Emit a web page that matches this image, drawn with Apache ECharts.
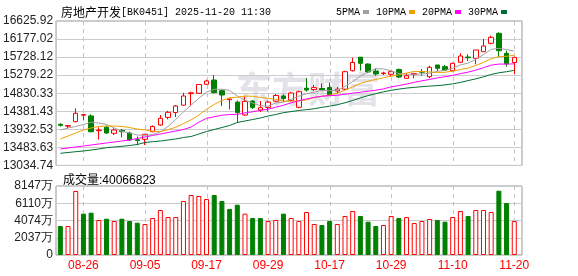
<!DOCTYPE html>
<html><head><meta charset="utf-8">
<script src="https://cdn.jsdelivr.net/npm/echarts@6/dist/echarts.min.js"></script>
<style>html,body{margin:0;padding:0;background:#fff}#c{width:578px;height:276px}</style>
</head><body><div id="c"></div>
<script>
const titleName = '房地产开发';
const titleCode = '[BK0451] 2025-11-20 11:30';
const volLabel = '成交量:40066823';
const legendNames = ['5PMA', '10PMA', '20PMA', '30PMA'];

const dates = ['08-21','08-22','08-25','08-26','08-27','08-28','08-29','09-01','09-02','09-03',
'09-04','09-05','09-08','09-09','09-10','09-11','09-12','09-15','09-16','09-17',
'09-18','09-19','09-22','09-23','09-24','09-25','09-26','09-29','09-30','10-09',
'10-10','10-13','10-14','10-15','10-16','10-17','10-20','10-21','10-22','10-23',
'10-24','10-27','10-28','10-29','10-30','10-31','11-03','11-04','11-05','11-06',
'11-07','11-10','11-11','11-12','11-13','11-14','11-17','11-18','11-19','11-20'];

const opens = [14056.9,14009.6,14121.5,14283.2,14265.8,13897.7,13984.7,13833.0,13907.6,13840.5,
13671.4,13683.8,13872.8,14039.4,14228.5,14350.3,14531.9,14820.4,14827.8,15051.7,
15158.6,14892.5,14668.7,14609.0,14288.1,14636.3,14412.5,14477.2,14631.4,14760.7,
14648.8,14479.6,14954.7,14922.3,14947.2,14972.1,14885.0,14929.8,15389.9,15725.6,
15556.5,15382.4,15317.8,15300.4,15419.7,15200.9,15300.4,15370.0,15240.7,15531.6,
15489.4,15389.9,15598.8,15730.6,15698.3,15862.4,16071.3,16320.0,15822.6,15593.8];

const closes = [14032.0,14024.5,14330.4,14298.1,13872.8,13915.1,13840.5,13915.1,13872.8,13666.4,
13654.0,13808.2,14002.1,14206.1,14355.3,14512.0,14760.7,14840.3,15046.7,15133.7,
14842.8,14785.5,14686.1,14347.8,14626.4,14477.2,14469.7,14609.0,14773.1,14696.0,
14835.3,14867.6,14909.9,14969.6,14914.9,14798.0,14929.8,15365.0,15593.8,15573.9,
15357.6,15307.8,15332.7,15365.0,15233.2,15265.5,15322.7,15352.6,15474.4,15449.6,
15407.3,15573.9,15755.5,15713.2,15904.7,16004.2,16220.5,15887.3,15561.5,15723.1];

const lows = [13997.2,13957.4,14106.6,14163.8,13857.9,13678.8,13815.6,13790.7,13733.5,13641.5,
13534.6,13542.0,13857.9,14022.0,14181.2,14238.4,14517.0,14504.5,14820.4,15044.2,
14827.8,14512.0,14424.9,14089.2,14270.7,14437.4,14362.8,14375.2,14621.4,14611.5,
14623.9,14454.8,14867.6,14885.0,14885.0,14778.1,14827.8,14909.9,15370.0,15389.9,
15325.2,15265.5,15282.9,15240.7,15208.3,15188.4,15200.9,15265.5,15200.9,15382.4,
15389.9,15377.5,15588.9,15631.1,15549.1,15855.0,16046.5,15730.6,15489.4,15302.9];

const highs = [14081.7,14027.0,14454.8,14303.1,14305.6,13982.3,14017.1,13957.4,13940.0,13877.8,
13753.4,13815.6,14027.0,14288.1,14392.6,14536.8,14840.3,14867.6,15059.1,15166.1,
15282.9,14922.3,14691.0,14648.8,14743.3,14661.2,14636.3,14648.8,14810.4,14803.0,
14867.6,14892.5,15208.3,15034.2,15071.6,15091.5,14984.5,15387.4,15713.2,15730.6,
15569.0,15449.6,15365.0,15377.5,15444.6,15325.2,15325.2,15432.2,15514.2,15536.6,
15531.6,15588.9,15822.6,15797.8,15909.7,16178.3,16260.3,16344.9,15887.3,15730.6];

const ma5 = [13915,13965,14002,14052,14111.6,14088.2,14051.4,13968.3,13883.3,13842.0,
13789.8,13783.3,13800.7,13867.4,14005.1,14176.7,14367.2,14534.9,14703.0,14858.7,
14924.8,14929.8,14899.0,14759.2,14657.7,14584.6,14521.4,14506.0,14591.1,14605.0,
14676.6,14756.2,14816.4,14855.7,14899.5,14892.0,14904.4,14995.5,15120.3,15252.1,
15364.0,15439.6,15433.2,15387.4,15319.3,15300.8,15303.8,15307.8,15329.7,15373.0,
15401.3,15451.6,15532.1,15579.9,15670.9,15790.3,15919.6,15946.0,15915.6,15879.3];

const ma10 = [13691.3,13765.9,13840.5,13915.1,13964.8,14002.1,14014.6,14014.6,14002.1,13976.8,
13939.0,13917.3,13884.5,13875.3,13923.6,13983.3,14075.3,14167.8,14285.2,14431.9,
14550.8,14648.5,14716.9,14731.1,14758.2,14754.7,14725.6,14702.5,14675.1,14631.4,
14630.6,14638.8,14661.2,14723.4,14752.2,14784.3,14830.3,14905.9,14988.0,15075.8,
15128.0,15172.0,15214.3,15253.9,15285.7,15332.4,15371.7,15370.5,15358.5,15346.1,
15351.1,15377.7,15420.0,15454.8,15521.9,15595.8,15685.6,15739.1,15747.8,15775.1];

const ma20 = [13442.6,13467.4,13492.3,13517.2,13542.0,13566.9,13591.8,13616.7,13641.5,13666.4,
13703.7,13741.0,13778.3,13815.6,13852.9,13890.2,13927.5,13989.7,14110.0,14204.3,
14244.9,14282.9,14300.7,14303.2,14340.9,14369.0,14400.4,14435.1,14480.2,14531.6,
14590.7,14643.7,14689.1,14727.2,14755.2,14769.5,14778.0,14804.2,14831.6,14853.6,
14879.3,14905.4,14937.8,14988.6,15019.0,15058.4,15101.0,15138.2,15173.3,15210.9,
15239.5,15274.9,15317.1,15354.3,15403.8,15464.1,15528.7,15554.8,15553.2,15560.6];

const ma30 = [13335.6,13355.5,13375.4,13392.8,13417.7,13442.6,13474.9,13492.3,13509.7,13529.6,
13554.5,13604.2,13624.1,13641.5,13666.4,13691.3,13728.6,13753.4,13815.6,13877.8,
13927.5,13977.3,14027.0,14101.6,14138.9,14176.2,14213.5,14263.3,14300.6,14346.7,
14373.5,14401.6,14420.9,14443.3,14478.0,14507.4,14543.7,14592.1,14649.4,14713.0,
14769.8,14819.8,14864.1,14902.8,14932.0,14957.2,14975.9,14993.0,15007.2,15017.8,
15036.6,15062.8,15098.5,15144.0,15186.6,15237.5,15295.9,15338.5,15364.8,15399.0];

// volume in 万 (10k shares)
const volumes = [3424,3424,7557,4877,4995,4133,4287,4014,4287,4014,
3814,3660,4369,5313,4487,4487,6376,7084,6966,6612,
7084,6376,5431,5939,4877,4369,4369,4014,4133,4877,
4369,4014,5077,3660,3542,4014,3660,4605,5195,4605,
3932,3424,3542,4605,4369,4487,3778,4014,4251,4133,
3932,4487,5195,4605,5313,5313,5077,7592,6140,4006.7];

// u = up (red hollow), d = down (green solid)
const volDir = ['d','u','u','d','d','u','d','u','d','d',
'd','u','u','u','u','u','u','u','u','u',
'd','d','d','d','u','d','d','u','u','d',
'u','u','u','u','d','d','u','u','u','d',
'd','d','u','u','d','u','u','u','u','d',
'd','u','u','d','u','u','u','d','d','u'];

const priceTicks = ['13034.74','13483.63','13932.53','14381.43','14830.33','15279.22','15728.12','16177.02','16625.92'];
const volTicks = ['0','2037万','4074万','6110万','8147万'];
const xLabelDates = ['08-26','09-05','09-17','09-29','10-17','10-29','11-10','11-20'];

const pMin = 13034.74, pMax = 16625.92, pStep = (pMax - pMin) / 8;
const vMax = 8147, vStep = vMax / 4;

const RED = '#ff0000', GREEN = '#008000';
const NONE = 'rgba(0,0,0,0)';
const chart = echarts.init(document.getElementById('c'));

const mainTop = 21, mainH = 144.4, volTop = 186, volH = 69;
const frameL = 56, frameR = 56, dataL = 56.5, dataW = 461.6;

const labelFont = {fontFamily: 'Liberation Sans', fontSize: 12, color: '#222'};
const isLbl = (i) => xLabelDates.indexOf(dates[i]) >= 0;

// dashed vertical guide at each labelled date, placed through the category axis
const guideSeries = (xi, yi, yVal) => ({
  type: 'custom', name: 'guide' + xi, xAxisIndex: xi, yAxisIndex: yi, silent: true, z: 2,
  data: xLabelDates.map(d => [d, yVal]), encode: {x: 0, y: 1},
  renderItem: (params, api) => {
    const x = Math.round(api.coord([api.value(0), yVal])[0]) + 0.5;
    const cs = params.coordSys;
    return {type: 'line', silent: true,
      shape: {x1: x, y1: cs.y, x2: x, y2: cs.y + cs.height},
      style: {stroke: '#c4c4c4', lineWidth: 1, lineDash: [4, 4]}};
  }
});

chart.setOption({
  animation: false,
  title: [
    {left: 56, top: 1, text: '{c|' + titleName + '}{a|' + titleCode + '}',
     textStyle: {fontWeight: 'normal', rich: {
       c: {fontFamily: 'Noto Sans CJK SC', fontSize: 12, color: '#000', fontWeight: 'normal'},
       a: {fontFamily: 'Liberation Mono', fontSize: 10, color: '#000', fontWeight: 'normal'}}}},
    {left: 58, top: 170, text: volLabel,
     textStyle: {fontFamily: 'Liberation Sans, Noto Sans CJK SC', fontSize: 12, fontWeight: 'normal', color: '#000'}}
  ],
  legend: {
    data: legendNames, top: 2, right: 66, align: 'right', icon: 'rect',
    itemWidth: 6, itemHeight: 4, itemGap: 7, selectedMode: false,
    textStyle: {fontFamily: 'Liberation Mono', fontSize: 10, color: '#000', padding: [0, -2, 0, 0]}
  },
  graphic: [{
    type: 'text', left: 236, top: 71, z: -10, silent: true,
    style: {text: '东方财富', font: 'bold 36px "Noto Sans CJK SC"', fill: '#e2e2e8'}
  }],
  grid: [
    {left: dataL, width: dataW, top: mainTop, height: mainH},
    {left: dataL, width: dataW, top: volTop, height: volH},
    {left: frameL, right: frameR, top: mainTop, height: mainH, show: true, backgroundColor: NONE, borderColor: '#999', borderWidth: 1},
    {left: frameL, right: frameR, top: volTop, height: volH, show: true, backgroundColor: NONE, borderColor: '#999', borderWidth: 1}
  ],
  xAxis: [
    {gridIndex: 0, type: 'category', data: dates,
     axisLine: {show: false}, axisTick: {show: false}, axisLabel: {show: false}, splitLine: {show: false}},
    {gridIndex: 1, type: 'category', data: dates,
     axisLine: {show: false}, axisTick: {show: false}, splitLine: {show: false},
     axisLabel: {show: true, interval: (i) => isLbl(i), color: RED, fontFamily: 'Liberation Sans', fontSize: 12, margin: 5}},
    {gridIndex: 2, type: 'value', min: 0, max: 1, show: false},
    {gridIndex: 3, type: 'value', min: 0, max: 1, show: false}
  ],
  yAxis: [
    {gridIndex: 0, type: 'value', min: pMin, max: pMax, show: false},
    {gridIndex: 1, type: 'value', min: 0, max: vMax, show: false},
    {gridIndex: 2, type: 'value', min: pMin, max: pMax, interval: pStep,
     axisLine: {show: false}, axisTick: {show: false},
     axisLabel: Object.assign({margin: 3, formatter: (v) => priceTicks[Math.round((v - pMin) / pStep)] || ''}, labelFont),
     splitLine: {show: true, lineStyle: {color: '#cccccc', width: 1}}},
    {gridIndex: 3, type: 'value', min: 0, max: vMax, interval: vStep,
     axisLine: {show: false}, axisTick: {show: false},
     axisLabel: Object.assign({margin: 3, formatter: (v) => volTicks[Math.round(v / vStep)] || ''}, labelFont),
     splitLine: {show: true, lineStyle: {color: '#cccccc', width: 1}}}
  ],
  series: [
    guideSeries(0, 0, pMin),
    guideSeries(1, 1, 0),
    {type: 'candlestick', name: 'K', xAxisIndex: 0, yAxisIndex: 0, barWidth: 5, z: 3,
     data: dates.map((d, i) => [opens[i], closes[i], lows[i], highs[i]]),
     itemStyle: {color: '#ffffff', borderColor: RED, color0: GREEN, borderColor0: GREEN, borderWidth: 1}},
    {type: 'line', name: '5PMA', xAxisIndex: 0, yAxisIndex: 0, data: ma5, symbol: 'none', z: 4,
     lineStyle: {color: '#a0a0a0', width: 1}, itemStyle: {color: '#a0a0a0'}},
    {type: 'line', name: '10PMA', xAxisIndex: 0, yAxisIndex: 0, data: ma10, symbol: 'none', z: 4,
     lineStyle: {color: '#f0a000', width: 1}, itemStyle: {color: '#f0a000'}},
    {type: 'line', name: '20PMA', xAxisIndex: 0, yAxisIndex: 0, data: ma20, symbol: 'none', z: 4,
     lineStyle: {color: '#ff00ff', width: 1}, itemStyle: {color: '#ff00ff'}},
    {type: 'line', name: '30PMA', xAxisIndex: 0, yAxisIndex: 0, data: ma30, symbol: 'none', z: 4,
     lineStyle: {color: '#006f33', width: 1}, itemStyle: {color: '#006f33'}},
    {type: 'bar', name: 'VOL', xAxisIndex: 1, yAxisIndex: 1, barWidth: 5, z: 3,
     data: volumes.map((v, i) => ({value: v, itemStyle: volDir[i] === 'u'
       ? {color: '#ffffff', borderColor: RED, borderWidth: 1}
       : {color: GREEN, borderColor: GREEN, borderWidth: 1}}))}
  ]
});
</script>
</body></html>
